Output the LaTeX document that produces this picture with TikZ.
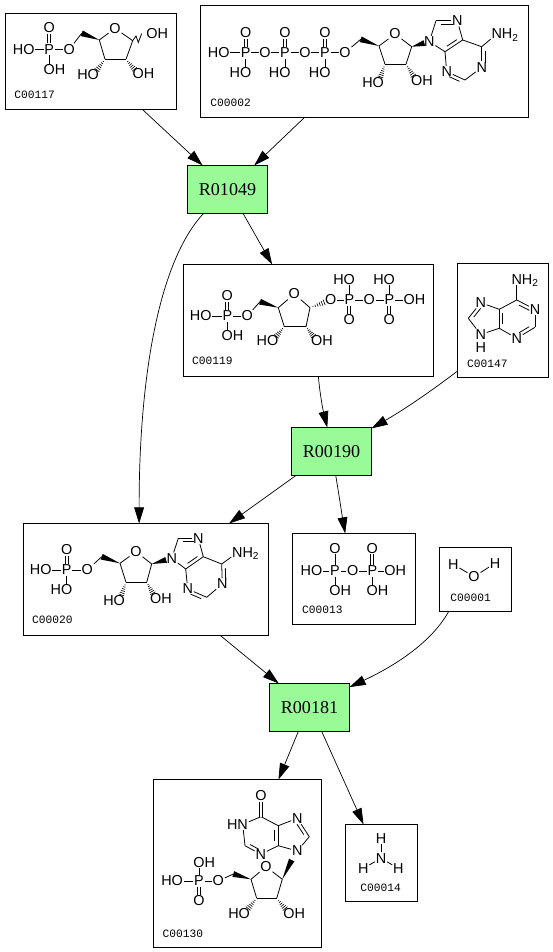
\documentclass[tikz,border=0pt]{standalone}
\usepackage{fontspec}
\usepackage{xcolor}
\usepackage{tikz}
\usetikzlibrary{arrows.meta,calc,fit}
\newfontfamily\atomfont{Liberation Sans}
\newfontfamily\cidfont{Liberation Mono}
\newfontfamily\rxnfont{Liberation Serif}
\definecolor{rxngreen}{HTML}{98FB98}
\newcommand{\Rt}[1]{\rlap{\smash{#1}}}
\newcommand{\Lt}[1]{\llap{#1}}
\newcommand{\atoms}[1]{\foreach \nm/\x/\y/\lbl in {#1} {\node[atom] (\nm) at (\x,\y) {\lbl};}}
\newcommand{\carbons}[1]{\foreach \nm/\x/\y in {#1} {\coordinate (\nm) at (\x,\y);}}
\newcommand{\bonds}[1]{\foreach \ba/\bb in {#1} {\draw[bond] (\ba) -- (\bb);}}
\newcommand{\dbonds}[1]{\foreach \ba/\bb in {#1} {\draw[dbond] (\ba) -- (\bb);}}
\newcommand{\inbonds}[1]{\foreach \ba/\bb/\sd in {#1} {\draw[bond] (\ba) -- (\bb);
  \draw[bond] ($(\ba)!.22!(\bb)!2pt!\sd:(\bb)$) -- ($(\ba)!.78!(\bb)!2pt!\sd:(\bb)$);}}
\newcommand{\wedgebond}[3]{\fill ($(#1)!#3!(#2)!1.7pt!90:(#1)$) -- ($(#1)!#3!(#2)!1.7pt!-90:(#1)$) -- (#1) -- cycle;}
\newcommand{\hashbond}[3]{\foreach \hf in {.2,.35,.5,.65,.8,.95} {\pgfmathsetmacro{\hp}{\hf*#3}
  \draw[line width=.35pt] ($(#1)!\hp!(#2)!\hf*1.8pt!90:(#2)$) -- ($(#1)!\hp!(#2)!\hf*1.8pt!-90:(#2)$);}}

\begin{document}
\begin{tikzpicture}[x=0.02cm,y=-0.02cm,
  cpd/.style={draw=black,line width=0.57pt,inner sep=0pt,outer sep=0pt,fill=white},
  rxn/.style={draw=black,line width=0.57pt,inner sep=0pt,outer sep=0pt,fill=rxngreen},
  rxntxt/.style={font=\rxnfont\fontsize{10.3}{11}\selectfont},
  cid/.style={anchor=west,inner sep=0pt,font=\cidfont\fontsize{6.4}{7}\selectfont},
  atom/.style={inner sep=0.5pt,outer sep=0pt,font=\atomfont\fontsize{8.2}{8.5}\selectfont},
  bond/.style={line width=0.45pt},
  dbond/.style={double,double distance=1.3pt,line width=0.4pt},
  arr/.style={-{Triangle[length=9.2pt,width=5.6pt]},line width=0.4pt}
]
\useasboundingbox (0,0) rectangle (553,952);

%--- Boxes ---
\node[cpd,fit={(5.5,13.5) (176.5,109.5)}] (c00117) {};
\node[cpd,fit={(200.5,5.5) (528.5,117.5)}] (c00002) {};
\node[cpd,fit={(183.5,264.5) (433.5,376.5)}] (c00119) {};
\node[cpd,fit={(457.5,263.5) (548.5,377.5)}] (c00147) {};
\node[cpd,fit={(23.5,523.5) (268.5,635.5)}] (c00020) {};
\node[cpd,fit={(292.5,533.5) (415.5,624.5)}] (c00013) {};
\node[cpd,fit={(439.5,547.5) (511.5,611.5)}] (c00001) {};
\node[cpd,fit={(153.5,779.5) (321.5,947.5)}] (c00130) {};
\node[cpd,fit={(345.5,824.5) (417.5,901.5)}] (c00014) {};
\node[rxn,fit={(187.5,165.5) (267.5,213.5)}] (r01049) {};
\node[rxn,fit={(291.5,427.5) (371.5,475.5)}] (r00190) {};
\node[rxn,fit={(269.5,683.5) (349.5,731.5)}] (r00181) {};
\node[rxntxt] (r01049txt) at (r01049) {R01049};
\node[rxntxt] (r00190txt) at (r00190) {R00190};
\node[rxntxt] (r00181txt) at (r00181) {R00181};

%--- Connectors ---
\draw[arr] (c00117.-43) -- (r01049.136);
\draw[arr] (c00002.-137.3) -- (r01049.42.2);
\draw[arr] (r01049.-135.6) .. controls (158,262) and (139,380) .. (c00020.97.2);
\draw[arr] (r01049.-57.1) -- (c00119.123.2);
\draw[arr] (c00119.-80.1) .. controls (320,395) and (323,410) .. (r00190.100.6);
\draw[arr] (c00147.-132.6) .. controls (430,392) and (405,409) .. (r00190.30.6);
\draw[arr] (r00190.-146.7) -- (c00020.34.2);
\draw[arr] (r00190.-80) .. controls (339,495) and (342,515) .. (c00013.101.2);
\draw[arr] (c00020.-37.7) -- (r00181.142.3);
\draw[arr] (c00001.-130.7) .. controls (430,645) and (390,668) .. (r00181.27.5);
\draw[arr] (r00181.-115) -- (c00130.64.8);
\draw[arr] (r00181.-63) -- (c00014.115.2);

%--- C00117 ---
\atoms{aP/49.3/49.3/P, aO1/49.3/28/O, aO2/29/49.3/\Lt{H}O, aO3/49.3/70/O\Rt{H}, aO4/69.3/49.3/O,
  aOr/115/28.3/O, aO5/93.3/75/\Lt{H}O, aO6/138.3/74/O\Rt{H}, aO7/152/33.3/O\Rt{H}}
\carbons{aC1/81.7/33.3, aC2/99.3/40, aC3/105/59.3, aC4/126/59.3, aC5/132.7/40.7}
\bonds{aP/aO2, aP/aO3, aP/aO4, aO4/aC1, aC2/aOr, aOr/aC5, aC2/aC3, aC3/aC4, aC4/aC5}
\dbonds{aP/aO1}
\wedgebond{aC2}{aC1}{1}
\hashbond{aC3}{aO5}{.72}
\hashbond{aC4}{aO6}{.72}
\draw[bond] (aC5) -- ++(3.3,-4.7) -- ++(2.3,6.5) -- ++(3.4,-9);
\node[cid] (c00117id) at (14,95) {C00117};

%--- C00002 ---
\atoms{bP1/245.7/52.7/P, bO1/245.7/32.7/O, bO2/224/52.7/\Lt{H}O, bO3/245.7/72.7/\Lt{H}O, bO4/265/52.7/O,
  bP2/285/52.7/P, bO5/285/32.7/O, bO6/285/72.7/\Lt{H}O, bO7/305/52.7/O,
  bP3/325/52.7/P, bO8/325/32.7/O, bO9/325/72.7/\Lt{H}O, bO10/345/52.7/O,
  bOr/395/34/O, bO11/378.3/82.7/\Lt{H}O, bO12/416.7/81/O\Rt{H},
  bN9/429.3/41.7/N, bN7/457.3/20.7/N, bNa/496.7/34/N\Rt{H\textsubscript{2}}, bN1/481.7/67.3/N, bN3/446.7/71.7/N}
\carbons{bC1/360.7/39.3, bC2/379/46, bC3/411.7/46.7, bC4/406/64.3, bC5/385/64.3,
  bC8/436/20.7, bC9/462.7/40, bC10/445/51.7, bC11/481.7/46.7, bC12/465/80}
\bonds{bP1/bO2, bP1/bO3, bP1/bO4, bO4/bP2, bP2/bO6, bP2/bO7, bO7/bP3, bP3/bO9, bP3/bO10, bO10/bC1,
  bC2/bOr, bOr/bC3, bC2/bC5, bC5/bC4, bC4/bC3, bN9/bC8, bN7/bC9, bC10/bN9, bC9/bC11, bC11/bNa, bN1/bC12, bN3/bC10}
\dbonds{bP1/bO1, bP2/bO5, bP3/bO8}
\inbonds{bC8/bN7/-90, bC9/bC10/-90, bC11/bN1/90, bC12/bN3/90}
\wedgebond{bC2}{bC1}{1}
\wedgebond{bC3}{bN9}{.72}
\hashbond{bC5}{bO11}{.72}
\hashbond{bC4}{bO12}{.72}
\node[cid] (c00002id) at (210,103) {C00002};

%--- C00119 ---
\atoms{cP1/227.3/316/P, cO1/227.3/296/O, cO2/206/316/\Lt{H}O, cO3/227.3/336/O\Rt{H}, cO4/247.3/316/O,
  cOr/294.3/294/O, cO5/272.7/340.7/\Lt{H}O, cO6/316.7/340.7/O\Rt{H}, cO7/330.7/300/O,
  cP2/349.3/300/P, cO8/349.3/279.3/\Lt{H}O, cO9/349.3/320/O, cO10/369.3/300/O,
  cP3/389.3/300/P, cO11/389.3/279.3/\Lt{H}O, cO12/389.3/320/O, cO13/409.3/300/O\Rt{H}}
\carbons{cC1/260/301.7, cC2/278.3/307.7, cC3/310/307.7, cC4/306/326.7, cC5/284.3/326.7}
\bonds{cP1/cO2, cP1/cO3, cP1/cO4, cO4/cC1, cC2/cOr, cOr/cC3, cC3/cC4, cC4/cC5, cC5/cC2,
  cO7/cP2, cP2/cO8, cP2/cO10, cO10/cP3, cP3/cO11, cP3/cO13}
\dbonds{cP1/cO1, cP2/cO9, cP3/cO12}
\wedgebond{cC2}{cC1}{1}
\hashbond{cC5}{cO5}{.72}
\hashbond{cC4}{cO6}{.72}
\hashbond{cC3}{cO7}{.72}
\node[cid] (c00119id) at (191.7,361) {C00119};

%--- C00147 ---
\atoms{dNa/516.7/279.3/N\Rt{H\textsubscript{2}}, dN1/535/309.3/N, dN3/516.7/338.3/N,
  dN7/480.7/302.7/N, dN9/480.7/334.5/N, dH/480.7/347.5/H}
\carbons{dC6/516.7/300, dC2/535/327.3, dC4/499.3/328.3, dC5/499.3/309.3, dC8/468.3/318.3}
\bonds{dC6/dNa, dN1/dC2, dN3/dC4, dC5/dC6, dC5/dN7, dC8/dN9, dN9/dC4}
\inbonds{dC6/dN1/-90, dC2/dN3/-90, dC4/dC5/-90, dN7/dC8/90}
\node[cid] (c00147id) at (466.7,364) {C00147};

%--- C00020 ---
\atoms{eP/66.7/570/P, eO1/66.7/550/O, eO2/46/570/\Lt{H}O, eO3/66.7/590/\Lt{H}O, eO4/87.3/570/O,
  eOr/136/551.7/O, eO5/119.3/600.7/\Lt{H}O, eO6/155.7/598.3/O\Rt{H},
  eN9/171.7/558.3/N, eN7/198.3/538.3/N, eNa/237.3/552.7/N\Rt{H\textsubscript{2}}, eN1/222.3/584/N, eN3/187.7/589/N}
\carbons{eC1/101.7/556.7, eC2/120/563.3, eC3/151.7/564, eC4/146.7/582.3, eC5/126/582.3,
  eC8/178.3/538.3, eC9/203.3/556.7, eC10/185.7/569, eC11/221.7/564, eC12/206.7/597.3}
\bonds{eP/eO2, eP/eO3, eP/eO4, eO4/eC1, eC2/eOr, eOr/eC3, eC2/eC5, eC5/eC4, eC4/eC3,
  eN9/eC8, eN7/eC9, eC10/eN9, eC9/eC11, eC11/eNa, eN1/eC12, eN3/eC10}
\dbonds{eP/eO1}
\inbonds{eC8/eN7/-90, eC9/eC10/-90, eC11/eN1/90, eC12/eN3/90}
\wedgebond{eC2}{eC1}{1}
\wedgebond{eC3}{eN9}{.72}
\hashbond{eC5}{eO5}{.72}
\hashbond{eC4}{eO6}{.72}
\node[cid] (c00020id) at (31.7,620) {C00020};

%--- C00013 ---
\atoms{fP1/335/571/P, fO1/335/548.3/O, fO2/316.7/571/\Lt{H}O, fO3/335/590.7/O\Rt{H}, fO4/352.7/571/O,
  fP2/372.3/571/P, fO5/372.3/548.3/O, fO6/390/571/O\Rt{H}, fO7/372.3/590.7/O\Rt{H}}
\bonds{fP1/fO1, fP1/fO2, fP1/fO3, fP1/fO4, fO4/fP2, fP2/fO6, fP2/fO7}
\dbonds{fP2/fO5}
\node[cid] (c00013id) at (301.7,610) {C00013};

%--- C00001 ---
\atoms{gH1/453.3/564.3/H, gO/474/576.7/O, gH2/495/563.3/H}
\bonds{gH1/gO, gO/gH2}
\node[cid] (c00001id) at (450,597.7) {C00001};

%--- C00130 ---
\atoms{hO1/261/795.7/O, hN1/242.7/824.3/\Lt{H}N, hN3/260.7/854.3/N, hN7/297.3/818.3/N, hN9/297.3/851/N,
  hOr/266/866.7/O, hO5/218.3/881/O, hP/199/881/P, hO2/199/862.3/O\Rt{H}, hO3/177.3/881/\Lt{H}O, hO4/199/901/O,
  hO6/244.3/913.3/\Lt{H}O, hO7/289/913.3/O\Rt{H}}
\carbons{hC6/261/816.7, hC2/245/845.7, hC4/278.3/845.7, hC5/278.3/825.7, hC8/309.3/836.7,
  hC11/282.3/879.3, hC12/276.7/898.3, hC13/256.7/898.3, hC14/251/879.3, hC15/233.3/874, hW/291.7/860}
\bonds{hC6/hN1, hN1/hC2, hN3/hC4, hC5/hC6, hC5/hN7, hC8/hN9, hN9/hC4,
  hC14/hOr, hOr/hC11, hC11/hC12, hC12/hC13, hC13/hC14, hC15/hO5, hO5/hP, hP/hO2, hP/hO3}
\dbonds{hC6/hO1, hP/hO4}
\inbonds{hC2/hN3/90, hC4/hC5/90, hN7/hC8/-90}
\wedgebond{hC14}{hC15}{1}
\wedgebond{hC11}{hW}{1}
\hashbond{hC13}{hO6}{.72}
\hashbond{hC12}{hO7}{.72}
\node[cid] (c00130id) at (162.3,933.3) {C00130};

%--- C00014 ---
\atoms{iH1/381/838.3/H, iN/381/858.3/N, iH2/363.3/868.3/H, iH3/398.3/868.3/H}
\bonds{iN/iH1, iN/iH2, iN/iH3}
\node[cid] (c00014id) at (360,887.7) {C00014};
\end{tikzpicture}
\end{document}
